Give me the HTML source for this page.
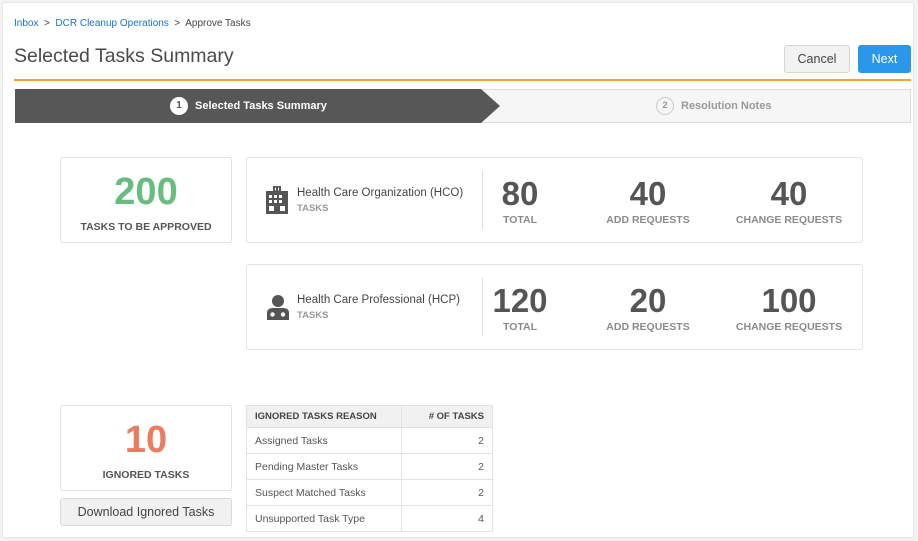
<!DOCTYPE html>
<html><head><meta charset="utf-8"><style>
*{margin:0;padding:0;box-sizing:border-box}
body{width:918px;height:541px;background:#f3f3f3;font-family:"Liberation Sans",Arial,sans-serif;position:relative;overflow:hidden;color:#444}
.abs{position:absolute}
.panel{left:2px;top:2px;width:912px;height:536px;background:#fff;border:1px solid #e6e6e6}
.card{background:#fff;border:1px solid #e2e2e2;border-radius:3px}
.big{font-weight:bold;text-align:center;width:100%}
.lbl{font-size:10.5px;font-weight:bold;color:#555;text-align:center;width:100%}
.num{font-size:33px;font-weight:bold;color:#555;text-align:center;width:160px;margin-left:-80px}
.sub{font-size:10.5px;font-weight:bold;color:#8a8a8a;text-align:center;width:160px;margin-left:-80px}
table{border-collapse:collapse;font-size:10.5px;color:#555}
td{border:1px solid #e2e2e2;height:26px;padding:0 8px}
</style></head><body>
<div class="abs panel"></div>
<div class="abs" style="left:14px;top:18px;font-size:10px;color:#444"><span style="color:#1a73c8">Inbox</span> &nbsp;&gt;&nbsp; <span style="color:#1a73c8">DCR Cleanup Operations</span> &nbsp;&gt;&nbsp; Approve Tasks</div>
<div class="abs" style="left:14px;top:45px;font-size:19.5px;color:#4a4a4a">Selected Tasks Summary</div>
<div class="abs" style="left:784px;top:45px;width:66px;height:28px;background:#f2f2f2;border:1px solid #d6d6d6;border-radius:3px;font-size:12.5px;color:#444;text-align:center;line-height:26px">Cancel</div>
<div class="abs" style="left:858px;top:45px;width:53px;height:28px;background:#2b97ea;border-radius:3px;font-size:12.5px;color:#fff;text-align:center;line-height:28px">Next</div>
<div class="abs" style="left:14px;top:79px;width:897px;height:2px;background:#f5a133"></div>
<div class="abs" style="left:15px;top:89px;width:896px;height:34px;background:#f6f6f6;border:1px solid #dcdcdc"></div>
<svg class="abs" style="left:15px;top:89px" width="486" height="34"><polygon points="0,0 466,0 485,17 466,34 0,34" fill="#575757"/></svg>
<div class="abs" style="left:170px;top:97px;width:18px;height:18px;border-radius:50%;background:#fff;color:#555;font-size:10px;font-weight:bold;text-align:center;line-height:18px">1</div>
<div class="abs" style="left:195px;top:100px;font-size:11px;font-weight:bold;color:#fff">Selected Tasks Summary</div>
<div class="abs" style="left:656px;top:97px;width:18px;height:18px;border-radius:50%;border:1.5px solid #ccc;color:#999;font-size:9.5px;font-weight:bold;text-align:center;line-height:15px">2</div>
<div class="abs" style="left:681px;top:100px;font-size:11px;font-weight:bold;color:#9a9a9a">Resolution Notes</div>

<div class="abs card" style="left:60px;top:157px;width:172px;height:86px">
 <div class="abs big" style="top:13px;font-size:38px;color:#67bd7e">200</div>
 <div class="abs lbl" style="top:63px">TASKS TO BE APPROVED</div>
</div>
<div class="abs card" style="left:60px;top:405px;width:172px;height:86px">
 <div class="abs big" style="top:13px;font-size:38px;color:#ec7c60">10</div>
 <div class="abs lbl" style="top:63px">IGNORED TASKS</div>
</div>
<div class="abs" style="left:60px;top:498px;width:172px;height:28px;background:#f1f1f1;border:1px solid #d8d8d8;border-radius:3px;font-size:12.5px;color:#444;text-align:center;line-height:26px">Download Ignored Tasks</div>

<div class="abs card" style="left:246px;top:157px;width:617px;height:86px"></div>
<div class="abs card" style="left:246px;top:264px;width:617px;height:86px"></div>
<svg class="abs" style="left:266px;top:186px" width="22" height="28" viewBox="0 0 22 28"><rect x="7" y="0" width="8" height="6" fill="#555"/><rect x="0" y="5" width="22" height="23" fill="#555"/><g fill="#fff"><rect x="3" y="9" width="3" height="3"/><rect x="8" y="9" width="3" height="3"/><rect x="13" y="9" width="3" height="3"/><rect x="3" y="14" width="3" height="3"/><rect x="8" y="14" width="3" height="3"/><rect x="13" y="14" width="3" height="3"/><rect x="3" y="20" width="5" height="5"/><rect x="14" y="20" width="5" height="5"/><rect x="9" y="1.5" width="1" height="3"/><rect x="12" y="1.5" width="1" height="3"/></g></svg>
<svg class="abs" style="left:266px;top:294px" width="24" height="26" viewBox="0 0 24 26"><circle cx="12" cy="7" r="6" fill="#555"/><path d="M1 26 V19 Q1 14 7 14 H17 Q23 14 23 19 V26Z" fill="#555"/><circle cx="6.5" cy="20.5" r="2.2" fill="#fff"/><circle cx="17" cy="20.5" r="2.2" fill="#fff"/></svg>
<div class="abs" style="left:297px;top:187px;font-size:11.5px;color:#444">Health Care Organization (HCO)</div>
<div class="abs" style="left:297px;top:203px;font-size:9.5px;font-weight:bold;color:#999">TASKS</div>
<div class="abs" style="left:297px;top:294px;font-size:11.5px;color:#444">Health Care Professional (HCP)</div>
<div class="abs" style="left:297px;top:310px;font-size:9.5px;font-weight:bold;color:#999">TASKS</div>
<div class="abs" style="left:482px;top:171px;width:1px;height:58px;background:#ddd"></div>
<div class="abs" style="left:482px;top:278px;width:1px;height:58px;background:#ddd"></div>

<div class="abs num" style="left:520px;top:175px">80</div><div class="abs sub" style="left:520px;top:214px">TOTAL</div>
<div class="abs num" style="left:648px;top:175px">40</div><div class="abs sub" style="left:648px;top:214px">ADD REQUESTS</div>
<div class="abs num" style="left:789px;top:175px">40</div><div class="abs sub" style="left:789px;top:214px">CHANGE REQUESTS</div>
<div class="abs num" style="left:520px;top:282px">120</div><div class="abs sub" style="left:520px;top:321px">TOTAL</div>
<div class="abs num" style="left:648px;top:282px">20</div><div class="abs sub" style="left:648px;top:321px">ADD REQUESTS</div>
<div class="abs num" style="left:789px;top:282px">100</div><div class="abs sub" style="left:789px;top:321px">CHANGE REQUESTS</div>

<table class="abs" style="left:246px;top:405px;width:247px">
<tr style="background:#f1f1f1;font-weight:bold;font-size:9.5px;color:#444"><td style="height:22px;width:155px">IGNORED TASKS REASON</td><td style="height:22px;text-align:right">#&nbsp;OF TASKS</td></tr>
<tr><td>Assigned Tasks</td><td style="text-align:right">2</td></tr>
<tr><td>Pending Master Tasks</td><td style="text-align:right">2</td></tr>
<tr><td>Suspect Matched Tasks</td><td style="text-align:right">2</td></tr>
<tr><td>Unsupported Task Type</td><td style="text-align:right">4</td></tr>
</table>
</body></html>
